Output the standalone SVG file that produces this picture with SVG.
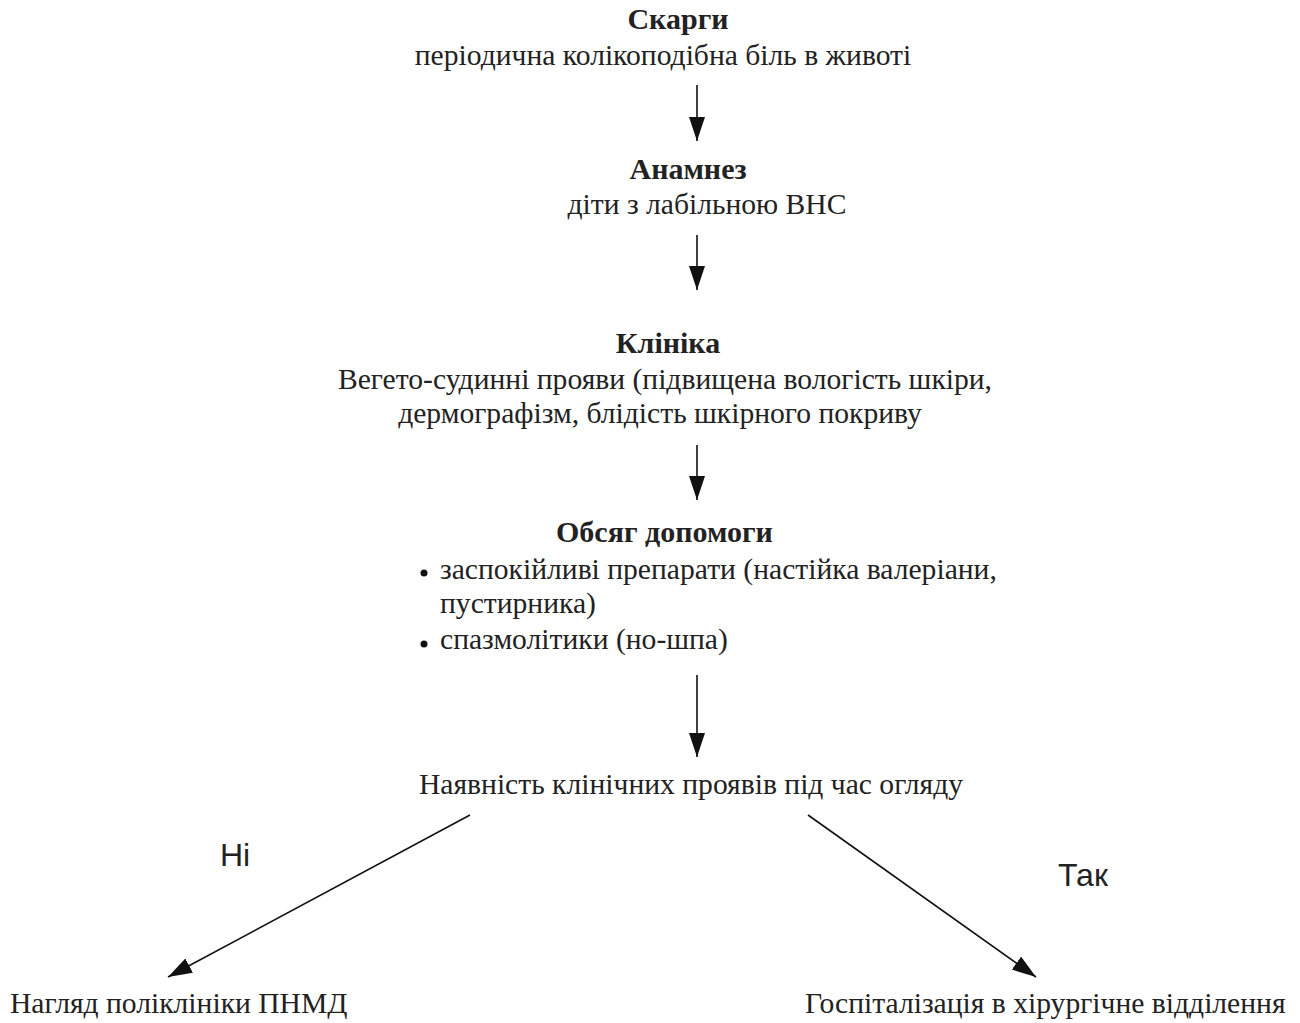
<svg xmlns="http://www.w3.org/2000/svg" width="1300" height="1023" viewBox="0 0 1300 1023">
<style>
text{font-family:"Liberation Serif","DejaVu Serif",serif;font-size:29.6px;fill:#222}
.b{font-weight:bold;font-size:30px}
.c{text-anchor:middle}
.s{font-family:"Liberation Sans",Arial,sans-serif;font-size:32px}
.ln{stroke:#111;stroke-width:1.6;fill:none}
</style>
<defs>
<marker id="ah" markerUnits="userSpaceOnUse" markerWidth="26" markerHeight="18" refX="24" refY="8" orient="auto">
<path d="M0,0 L24,8 L0,16 Z" fill="#111"/>
</marker>
</defs>
<rect width="1300" height="1023" fill="#fff"/>
<g id="complaints">
<text class="b c" x="678" y="29">Скарги</text>
<text class="c" x="663" y="65">періодична колікоподібна біль в животі</text>
</g>
<g id="anamnesis">
<text class="b c" x="688" y="179">Анамнез</text>
<text class="c" x="707" y="214">діти з лабільною ВНС</text>
</g>
<g id="clinic">
<text class="b c" x="668" y="353">Клініка</text>
<text class="c" x="665" y="389">Вегето-судинні прояви (підвищена вологість шкіри,</text>
<text class="c" x="660" y="423">дермографізм, блідість шкірного покриву</text>
</g>
<g id="help">
<text class="b" x="556" y="542">Обсяг допомоги</text>
<circle cx="424" cy="573" r="3.5" fill="#111"/>
<text x="440" y="579">заспокійливі препарати (настійка валеріани,</text>
<text x="440" y="613">пустирника)</text>
<circle cx="424" cy="644" r="3.5" fill="#111"/>
<text x="440" y="649">спазмолітики (но-шпа)</text>
</g>
<g id="presence">
<text class="c" x="691" y="794">Наявність клінічних проявів під час огляду</text>
</g>
<g id="observation">
<text x="10" y="1013">Нагляд поліклініки ПНМД</text>
</g>
<g id="hospital">
<text x="805" y="1013">Госпіталізація в хірургічне відділення</text>
</g>
<g id="connectors">
<line class="ln" x1="697" y1="85" x2="697" y2="141" marker-end="url(#ah)"/>
<line class="ln" x1="697" y1="235" x2="697" y2="290" marker-end="url(#ah)"/>
<line class="ln" x1="697" y1="445" x2="697" y2="500" marker-end="url(#ah)"/>
<line class="ln" x1="697" y1="675" x2="697" y2="757" marker-end="url(#ah)"/>
<line class="ln" x1="470" y1="815" x2="168" y2="977" marker-end="url(#ah)"/>
<line class="ln" x1="808" y1="815" x2="1036" y2="977" marker-end="url(#ah)"/>
<text class="s" x="220" y="866">Ні</text>
<text class="s" x="1058" y="886">Так</text>
</g>
</svg>
